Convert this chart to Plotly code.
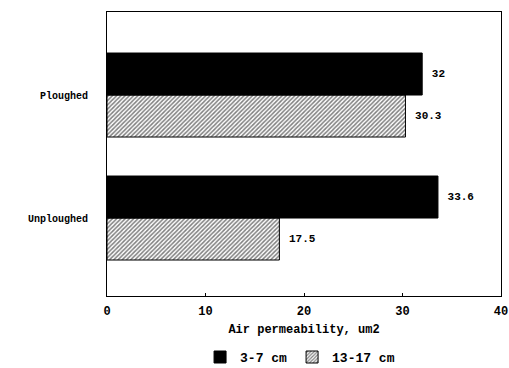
import plotly.graph_objects as go

categories = ["Unploughed", "Ploughed"]
depth_3_7 = [33.6, 32]
depth_13_17 = [17.5, 30.3]
series_names = ["3-7 cm", "13-17 cm"]
x_ticks = [0, 10, 20, 30, 40]

font_family = "Liberation Mono, Courier New, monospace"
label_font = dict(family=font_family, size=11, color="black", weight="bold")

fig = go.Figure()
fig.add_trace(go.Bar(
    y=categories, x=depth_13_17, orientation="h", name=series_names[1],
    marker=dict(color="white", line=dict(color="black", width=1),
                pattern=dict(shape="/", fgcolor="black", bgcolor="white", size=3, solidity=0.5)),
    text=["\u00a0" + f"{v:g}" for v in depth_13_17], textposition="outside",
    textfont=label_font, cliponaxis=False,
))
fig.add_trace(go.Bar(
    y=categories, x=depth_3_7, orientation="h", name=series_names[0],
    marker=dict(color="black", line=dict(color="black", width=1)),
    text=["\u00a0" + f"{v:g}" for v in depth_3_7], textposition="outside",
    textfont=label_font, cliponaxis=False,
))

fig.update_layout(
    width=509, height=368,
    margin=dict(l=107, r=8, t=12, b=72, autoexpand=False),
    paper_bgcolor="white", plot_bgcolor="white",
    barmode="group", bargap=0.317, bargroupgap=0,
    font=dict(family=font_family, size=10, color="black", weight="bold"),
    showlegend=True,
    legend=dict(orientation="h", traceorder="reversed", x=0.49, xanchor="center",
                y=-0.215, yanchor="middle", font=dict(size=13), itemwidth=30),
    xaxis=dict(range=[0, 40], tickvals=x_ticks, showgrid=False, zeroline=False,
               showline=True, linecolor="black", linewidth=1, mirror=True,
               ticks="inside", ticklen=3, tickcolor="black",
               tickfont=dict(size=12), ticklabelstandoff=4,
               title=dict(text="Air permeability, um2", standoff=6, font=dict(size=12))),
    yaxis=dict(type="category", categoryorder="array", categoryarray=categories,
               range=[-0.634, 1.675], showgrid=False, zeroline=False,
               showline=True, linecolor="black", linewidth=1, mirror=True,
               ticks="", ticklabelstandoff=16, tickfont=dict(size=10)),
)

fig.write_html("out.html")
